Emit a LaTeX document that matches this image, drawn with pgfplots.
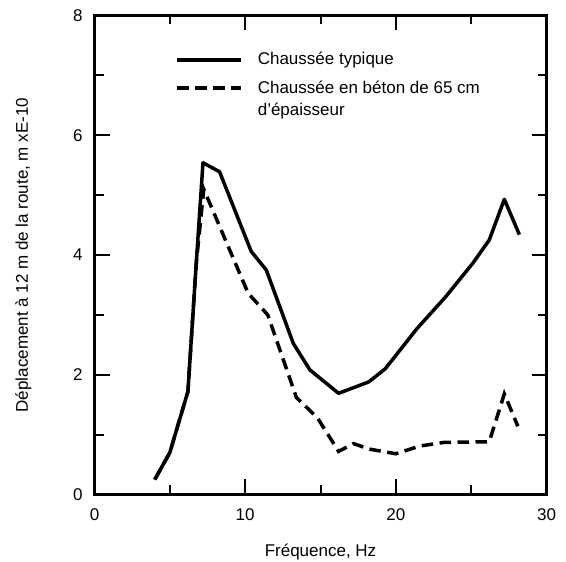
\documentclass[border=0pt]{standalone}
\usepackage{pgfplots}
\pgfplotsset{compat=1.18}
\usepackage{fontspec}
\setmainfont{Liberation Sans}
\pgfplotsset{raisedleg/.style={legend image code/.code={%
  \draw[##1] (0pt,11pt) -- (64pt,11pt); \path (0pt,-11pt);}}}
\begin{document}
\fontsize{17}{21}\selectfont
\begin{tikzpicture}
\begin{axis}[
  width=452pt, height=479pt, scale only axis,
  xmin=0, xmax=30, ymin=0, ymax=8,
  xtick={0,10,20,30}, minor xtick={5,15,25},
  ytick={0,2,4,6,8}, minor ytick={1,3,5,7},
  tick align=inside,
  major tick length=15pt, minor tick length=9pt,
  axis line style={line width=2.5pt},
  every tick/.style={black, line width=2pt},
  tick label style={font=\fontsize{17}{20}\selectfont},
  xticklabel style={yshift=-8pt},
  yticklabel style={xshift=-6pt},
  /pgf/number format/assume math mode=true,
  xlabel={Fréquence, Hz},
  ylabel={Déplacement à 12 m de la route, m xE-10},
  label style={font=\fontsize{17}{20}\selectfont},
  xlabel style={at={([yshift=-58pt]axis description cs:0.5,0)}, anchor=center},
  ylabel style={at={([xshift=-71pt]axis description cs:0,0.5)}, anchor=center},
  legend style={at={(axis cs:5.35,7.42)}, anchor=north west, draw=none, fill=none,
    inner sep=0pt, row sep=9pt, font=\fontsize{17}{22}\selectfont,
    cells={align=left},
    /tikz/every odd column/.append style={column sep=13pt}},
  legend cell align=left,
  legend image code/.code={\draw[#1] (0pt,0pt) -- (64pt,0pt);},
]
\addplot[black, line width=3.5pt, line join=round] coordinates {
  (4,0.25) (5,0.7) (6.2,1.72) (6.75,3.85) (7.2,5.54) (8.3,5.39)
  (10.4,4.06) (11.4,3.75) (13.2,2.52) (14.3,2.08) (16.2,1.69)
  (18.2,1.88) (19.3,2.10) (21.4,2.77) (23.3,3.30) (25.1,3.86)
  (26.2,4.25) (27.2,4.93) (28.2,4.34)
};
\addlegendentry{Chaussée typique}
\addplot[black, line width=3.5pt, dash pattern=on 11.5pt off 6.5pt, raisedleg] coordinates {
  (4,0.25) (5,0.7) (6.2,1.72) (6.75,3.85) (7.25,5.1) (10.2,3.36)
  (11.5,3.0) (13.4,1.62) (14.8,1.28) (16.2,0.72) (17.2,0.85)
  (18.2,0.76) (20,0.68) (21.6,0.81) (23.2,0.87) (26.2,0.88)
  (27.2,1.68) (28.1,1.14)
};
\addlegendentry{Chaussée en béton de 65 cm\\d’épaisseur}
\coordinate (sw) at (rel axis cs:0,0);
\coordinate (ne) at (rel axis cs:1,1);
\end{axis}
\pgfresetboundingbox
\path ([shift={(-94.5pt,-67.5pt)}]sw) rectangle ([shift={(19.5pt,15.5pt)}]ne);
\end{tikzpicture}
\end{document}
